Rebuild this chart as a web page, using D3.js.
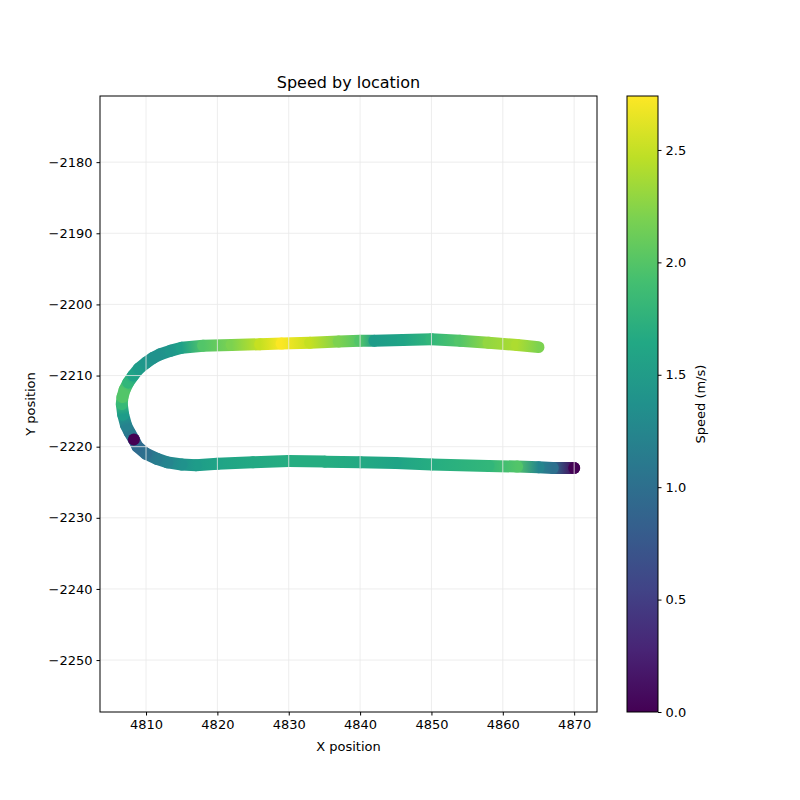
<!DOCTYPE html>
<html>
<head>
<meta charset="utf-8">
<script src="https://cdn.jsdelivr.net/npm/d3@7"></script>
<style>
  body { margin: 0; background: #fff; }
  text { font-family: "DejaVu Sans", sans-serif; }
</style>
</head>
<body>
<div id="chart"></div>
<script>
// track points (start at bottom-right, go round the bend, end top-right)
var xs = [4870, 4867, 4865, 4862, 4858, 4850, 4845, 4840, 4835, 4830, 4825, 4820, 4817, 4815, 4813, 4811.5, 4810, 4808.8, 4808.3,
          4807.7, 4807.2, 4806.8, 4806.6, 4806.7, 4807, 4807.5, 4808.2, 4809, 4810, 4811, 4812, 4813.5, 4815, 4818, 4822, 4826, 4829, 4833, 4837,
          4840, 4842, 4846, 4850, 4854, 4858, 4862, 4865];
var ys = [-2223, -2223, -2222.9, -2222.8, -2222.7, -2222.5, -2222.3, -2222.2, -2222.1, -2222, -2222.2, -2222.4, -2222.6, -2222.5, -2222.2, -2221.7, -2221, -2220, -2219,
          -2218, -2217, -2215.5, -2214, -2213, -2212, -2211, -2210, -2209, -2208.2, -2207.5, -2207, -2206.5, -2206.1, -2205.8, -2205.7, -2205.6, -2205.5, -2205.4, -2205.2,
          -2205.1, -2205.1, -2205, -2204.9, -2205.1, -2205.4, -2205.7, -2206];
var speeds = [0.05, 1.0, 1.25, 2.0, 1.8, 1.7, 1.6, 1.65, 1.7, 1.7, 1.65, 1.6, 1.5, 1.4, 1.25, 1.15, 1.0, 0.95, 0.9,
              1.1, 1.2, 1.5, 1.85, 2.0, 2.0, 1.8, 1.6, 1.5, 1.45, 1.4, 1.4, 1.45, 1.55, 2.0, 2.2, 2.5, 2.72, 2.5, 2.2,
              2.0, 1.5, 1.6, 1.8, 2.0, 2.3, 2.4, 2.2];
// stopped points drawn on top
var stopX = [4870, 4808.3];
var stopY = [-2223, -2219];
var xTicks = [4810, 4820, 4830, 4840, 4850, 4860, 4870];
var yTicks = [-2180, -2190, -2200, -2210, -2220, -2230, -2240, -2250];
var cTicks = [0, 0.5, 1, 1.5, 2, 2.5];
var speedMax = 2.74;

var svg = d3.select("#chart").append("svg").attr("width", 800).attr("height", 800);
var pLeft = 100, pRight = 597, pTop = 96, pBottom = 712;

var x = d3.scaleLinear().domain([4803.55, 4873.2]).range([pLeft, pRight]);
var y = d3.scaleLinear().domain([-2257.3, -2170.7]).range([pBottom, pTop]);
var color = d3.scaleSequential(d3.interpolateViridis).domain([0, speedMax]);
var minus = function (d) { return String(d).replace("-", "\u2212"); };

var defs = svg.append("defs");
var plot = svg.append("g");

// gradient segments along the track
for (var i = 0; i < xs.length - 1; i++) {
    var g = defs.append("linearGradient").attr("id", "seg" + i)
        .attr("gradientUnits", "userSpaceOnUse")
        .attr("x1", x(xs[i])).attr("y1", y(ys[i]))
        .attr("x2", x(xs[i + 1])).attr("y2", y(ys[i + 1]));
    g.append("stop").attr("offset", 0).attr("stop-color", color(speeds[i]));
    g.append("stop").attr("offset", 1).attr("stop-color", color(speeds[i + 1]));
    plot.append("line")
        .attr("x1", x(xs[i])).attr("y1", y(ys[i]))
        .attr("x2", x(xs[i + 1]) + 0.01).attr("y2", y(ys[i + 1]) + 0.01)
        .attr("stroke", "url(#seg" + i + ")")
        .attr("stroke-width", 12)
        .attr("stroke-linecap", "round");
}
plot.selectAll("circle.stop").data(stopX).enter().append("circle")
    .attr("cx", function (d) { return x(d); })
    .attr("cy", function (d, i) { return y(stopY[i]); })
    .attr("r", 6)
    .attr("fill", color(0));

// grid on top of the marks
var grid = svg.append("g").attr("stroke", "rgba(232,232,232,0.8)").attr("stroke-width", 1);
xTicks.forEach(function (t) {
    grid.append("line").attr("x1", x(t)).attr("x2", x(t)).attr("y1", pTop).attr("y2", pBottom);
});
yTicks.forEach(function (t) {
    grid.append("line").attr("y1", y(t)).attr("y2", y(t)).attr("x1", pLeft).attr("x2", pRight);
});

svg.append("rect").attr("x", pLeft).attr("y", pTop).attr("width", pRight - pLeft).attr("height", pBottom - pTop)
    .attr("fill", "none").attr("stroke", "#000").attr("stroke-width", 1);

var xAxis = svg.append("g").attr("transform", "translate(0," + pBottom + ")")
    .call(d3.axisBottom(x).tickValues(xTicks).tickFormat(d3.format("d")).tickSize(3.5).tickPadding(4));
var yAxis = svg.append("g").attr("transform", "translate(" + pLeft + ",0)")
    .call(d3.axisLeft(y).tickValues(yTicks).tickFormat(minus).tickSize(3.5).tickPadding(4));
[xAxis, yAxis].forEach(function (a) {
    a.select(".domain").remove();
    a.selectAll("text").attr("font-size", 13).attr("fill", "#000").style("font-family", "DejaVu Sans");
});

svg.append("text").attr("x", (pLeft + pRight) / 2).attr("y", 88).attr("text-anchor", "middle")
    .attr("font-size", 16).text("Speed by location");
svg.append("text").attr("x", (pLeft + pRight) / 2).attr("y", 751).attr("text-anchor", "middle")
    .attr("font-size", 13).text("X position");
svg.append("text").attr("transform", "translate(35," + (pTop + pBottom) / 2 + ") rotate(-90)")
    .attr("text-anchor", "middle").attr("font-size", 13).text("Y position");

// colorbar
var cbX = 627, cbW = 31;
var cb = defs.append("linearGradient").attr("id", "cbar").attr("x1", 0).attr("y1", 1).attr("x2", 0).attr("y2", 0);
d3.range(0, 1.0001, 0.1).forEach(function (t) {
    cb.append("stop").attr("offset", t).attr("stop-color", d3.interpolateViridis(t));
});
svg.append("rect").attr("x", cbX).attr("y", pTop).attr("width", cbW).attr("height", pBottom - pTop)
    .attr("fill", "url(#cbar)").attr("stroke", "#000").attr("stroke-width", 1);
var c = d3.scaleLinear().domain([0, speedMax]).range([pBottom, pTop]);
var cAxis = svg.append("g").attr("transform", "translate(" + (cbX + cbW) + ",0)")
    .call(d3.axisRight(c).tickValues(cTicks).tickFormat(d3.format(".1f")).tickSize(3.5).tickPadding(4));
cAxis.select(".domain").remove();
cAxis.selectAll("text").attr("font-size", 13).attr("fill", "#000").style("font-family", "DejaVu Sans");
svg.append("text").attr("transform", "translate(705," + (pTop + pBottom) / 2 + ") rotate(-90)")
    .attr("text-anchor", "middle").attr("font-size", 13).text("Speed (m/s)");
</script>
</body>
</html>
